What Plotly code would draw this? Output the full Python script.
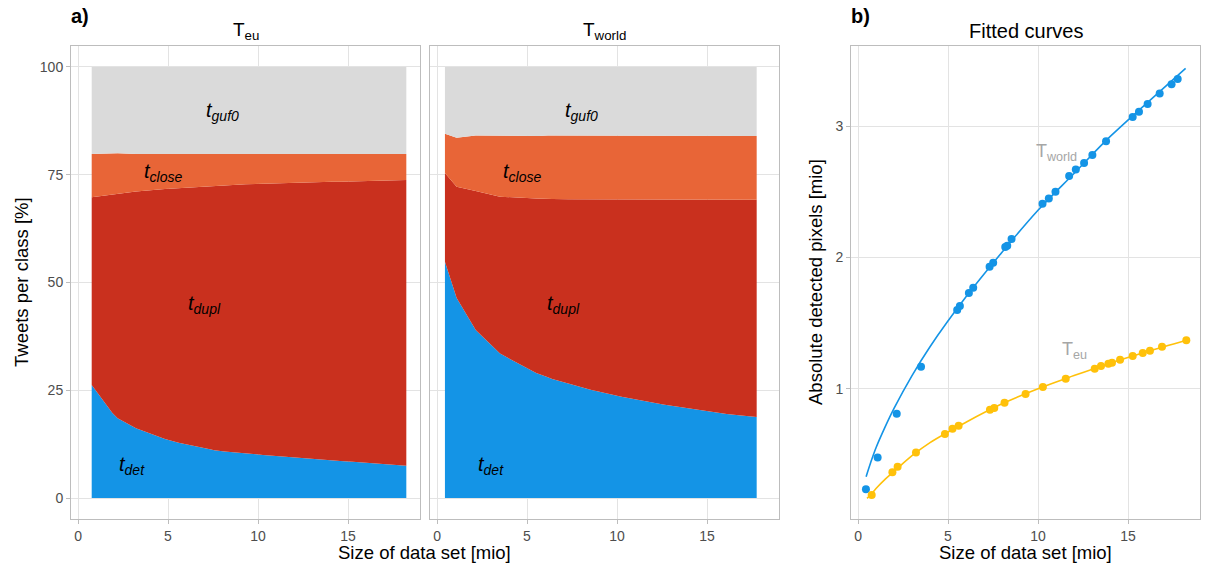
import plotly.graph_objects as go

# ---------------- data ----------------
# T_eu: size of data set [mio] and share of tweets per class [%]
eu_size = [0.76, 1.91, 2.20, 3.22, 4.83, 5.25, 5.59, 7.33, 7.57, 8.14, 9.31, 10.27,
           11.54, 13.15, 13.5, 13.91, 14.11, 14.56, 15.26, 15.82, 16.22, 16.89, 18.24]
eu_det = [26.2, 19.7, 18.5, 16.2, 13.7, 13.2, 12.8, 11.3, 11.1, 10.8, 10.3, 10.0,
          9.6, 9.0, 8.9, 8.8, 8.7, 8.6, 8.4, 8.2, 8.1, 7.9, 7.5]
eu_dupl = [43.6, 50.7, 52.1, 54.9, 58.0, 58.6, 59.2, 61.1, 61.4, 61.8, 62.5, 62.9,
           63.5, 64.3, 64.4, 64.6, 64.7, 64.8, 65.1, 65.4, 65.5, 65.8, 66.3]
eu_close = [10.0, 9.6, 9.4, 8.7, 8.1, 8.0, 7.8, 7.4, 7.3, 7.2, 7.0, 6.9,
            6.7, 6.5, 6.5, 6.4, 6.4, 6.4, 6.3, 6.2, 6.2, 6.1, 6.0]
eu_guf0 = [20.2, 20.0, 20.0, 20.2, 20.2, 20.2, 20.2, 20.2, 20.2, 20.2, 20.2, 20.2,
           20.2, 20.2, 20.2, 20.2, 20.2, 20.2, 20.2, 20.2, 20.2, 20.2, 20.2]

# T_world
world_size = [0.44, 1.09, 2.15, 3.5, 5.51, 5.66, 6.16, 6.40, 7.31, 7.51, 8.18, 8.29, 8.53,
              10.25, 10.6, 10.97, 11.73, 12.1, 12.56, 13.02, 13.78, 15.26, 15.61, 16.09,
              16.76, 17.42, 17.76]
world_det = [54.8, 46.4, 39.0, 33.5, 29.0, 28.8, 28.0, 27.6, 26.5, 26.2, 25.5, 25.4, 25.1,
             23.5, 23.2, 22.9, 22.3, 22.0, 21.7, 21.4, 20.9, 20.0, 19.8, 19.5,
             19.2, 18.9, 18.8]
world_dupl = [20.6, 25.8, 32.2, 36.4, 40.5, 40.7, 41.4, 41.8, 42.8, 43.1, 43.8, 43.9, 44.2,
              45.7, 46.0, 46.3, 46.9, 47.2, 47.5, 47.8, 48.3, 49.2, 49.4, 49.7,
              50.0, 50.3, 50.4]
world_close = [9.1, 11.4, 12.9, 14.1, 14.5, 14.5, 14.7, 14.7, 14.8, 14.8, 14.8, 14.7, 14.7,
               14.9, 14.9, 14.8, 14.8, 14.8, 14.8, 14.8, 14.8, 14.8, 14.8, 14.8,
               14.8, 14.8, 14.8]
world_guf0 = [15.5, 16.4, 15.9, 16.0, 16.0, 16.0, 15.9, 15.9, 15.9, 15.9, 15.9, 16.0, 16.0,
              15.9, 15.9, 16.0, 16.0, 16.0, 16.0, 16.0, 16.0, 16.0, 16.0, 16.0,
              16.0, 16.0, 16.0]

# absolute detected pixels [mio]
eu_pixels = [0.19, 0.364, 0.405, 0.514, 0.656, 0.695, 0.718, 0.84, 0.853, 0.893, 0.96, 1.013,
             1.076, 1.153, 1.173, 1.19, 1.198, 1.22, 1.25, 1.272, 1.29, 1.32, 1.37]
world_pixels = [0.234, 0.476, 0.81, 1.168, 1.60, 1.63, 1.73, 1.77, 1.93, 1.96, 2.08, 2.09, 2.14,
                2.41, 2.45, 2.50, 2.62, 2.67, 2.72, 2.78, 2.885, 3.07, 3.11, 3.17,
                3.25, 3.32, 3.36]

# fitted curves
eu_fit_x = [0.5, 0.76, 1, 1.5, 2, 3, 4, 6, 8, 10, 12, 14, 16, 18.24]
eu_fit_y = [0.165, 0.2, 0.24, 0.31, 0.37, 0.49, 0.59, 0.745, 0.885, 1.0, 1.10, 1.195, 1.28, 1.37]
world_fit_x = [0.45, 0.7, 1, 1.5, 2, 3, 4, 6, 8, 10, 12, 14, 16, 18.2]
world_fit_y = [0.33, 0.436, 0.55, 0.707, 0.85, 1.10, 1.32, 1.70, 2.04, 2.36, 2.64, 2.92, 3.17, 3.44]

classes = ["t_det", "t_dupl", "t_close", "t_guf0"]
class_colors = ["#1494E6", "#C9301E", "#E86537", "#DADADA"]
label_x = [3.0, 7.05, 4.7, 8.0]
label_y = [7.6, 44.8, 75.5, 89.6]
label_text = ["<i>t</i><sub><i>det</i></sub>", "<i>t</i><sub><i>dupl</i></sub>",
              "<i>t</i><sub><i>close</i></sub>", "<i>t</i><sub><i>guf0</i></sub>"]

BLUE = "#1494E6"
YELLOW = "#FFC10A"
FONT = "Liberation Sans, Arial, sans-serif"

W, H = 1207, 574
def px(x0, x1):
    return [x0 / W, x1 / W]
ydom = [(H - 519) / H, (H - 46) / H]

fig = go.Figure()

panels = [("x", "y", eu_size, [eu_det, eu_dupl, eu_close, eu_guf0]),
          ("x2", "y2", world_size, [world_det, world_dupl, world_close, world_guf0])]
for xa, ya, xs, series in panels:
    for name, vals, col in zip(classes, series, class_colors):
        fig.add_trace(go.Scatter(
            x=xs, y=vals, mode="lines", stackgroup=xa, name=name,
            line=dict(width=0, color=col), fillcolor=col,
            xaxis=xa, yaxis=ya, showlegend=False, hoverinfo="skip"))

# panel b
fig.add_trace(go.Scatter(x=world_fit_x, y=world_fit_y, mode="lines", line=dict(color=BLUE, width=1.6, shape="spline"),
                         xaxis="x3", yaxis="y3", showlegend=False))
fig.add_trace(go.Scatter(x=eu_fit_x, y=eu_fit_y, mode="lines", line=dict(color=YELLOW, width=1.6, shape="spline"),
                         xaxis="x3", yaxis="y3", showlegend=False))
fig.add_trace(go.Scatter(x=world_size, y=world_pixels, mode="markers", marker=dict(color=BLUE, size=8),
                         xaxis="x3", yaxis="y3", showlegend=False))
fig.add_trace(go.Scatter(x=eu_size, y=eu_pixels, mode="markers", marker=dict(color=YELLOW, size=8),
                         xaxis="x3", yaxis="y3", showlegend=False))

GRID = "#E3E3E3"
BORDER = "#BDBDBD"
TICKF = dict(family=FONT, size=14, color="#4D4D4D")
common_x = dict(range=[-0.39, 19.0], tickvals=[0, 5, 10, 15], showgrid=True, gridcolor=GRID, gridwidth=1,
                zeroline=False, showline=True, mirror=True, linecolor=BORDER, linewidth=1,
                ticks="outside", ticklen=4, tickcolor=BORDER, tickfont=TICKF)
common_y = dict(showgrid=True, gridcolor=GRID, gridwidth=1, zeroline=False, showline=True, mirror=True,
                linecolor=BORDER, linewidth=1, ticks="outside", ticklen=4, tickcolor=BORDER, tickfont=TICKF)

fig.update_layout(
    width=W, height=H, margin=dict(l=0, r=0, t=0, b=0),
    paper_bgcolor="white", plot_bgcolor="white",
    font=dict(family=FONT, color="black"),
    xaxis=dict(common_x, domain=px(71, 420), anchor="y"),
    xaxis2=dict(common_x, domain=px(430, 779), anchor="y2"),
    xaxis3=dict(common_x, domain=px(851, 1200), anchor="y3"),
    yaxis=dict(common_y, domain=ydom, range=[-4.87, 104.87], tickvals=[0, 25, 50, 75, 100], anchor="x"),
    yaxis2=dict(common_y, domain=ydom, range=[-4.87, 104.87], tickvals=[0, 25, 50, 75, 100],
                showticklabels=False, ticks="", anchor="x2"),
    yaxis3=dict(common_y, domain=ydom, range=[0.0076, 3.611], tickvals=[1, 2, 3], anchor="x3"),
)

def pa(xp, yp, text, size, color="black", angle=0, xanchor="center"):
    return dict(x=xp / W, y=(H - yp) / H, xref="paper", yref="paper", text=text, textangle=angle,
                xanchor=xanchor, yanchor="middle", showarrow=False,
                font=dict(family=FONT, size=size, color=color))

ann = []
for xr, yr in [("x", "y"), ("x2", "y2")]:
    for lx, ly, lt in zip(label_x, label_y, label_text):
        ann.append(dict(x=lx, y=ly, xref=xr, yref=yr, text=lt, showarrow=False,
                        xanchor="center", yanchor="middle",
                        font=dict(family=FONT, size=20, color="black")))

ann += [
    dict(x=11.05, y=2.80, xref="x3", yref="y3", text="T<sub>world</sub>", showarrow=False,
         xanchor="center", yanchor="middle", font=dict(family=FONT, size=18, color="#A6A6A6")),
    dict(x=12.05, y=1.29, xref="x3", yref="y3", text="T<sub>eu</sub>", showarrow=False,
         xanchor="center", yanchor="middle", font=dict(family=FONT, size=18, color="#A6A6A6")),
    # panel titles
    pa((71 + 420) / 2, 31, "T<sub>eu</sub>", 19),
    pa((430 + 779) / 2, 31, "T<sub>world</sub>", 19),
    pa((851 + 1200) / 2, 31, "Fitted curves", 20),
    # tags
    pa(69, 16, "<b>a)</b>", 20, xanchor="left"),
    pa(849, 16, "<b>b)</b>", 20, xanchor="left"),
    # axis titles
    pa((71 + 779) / 2, 552, "Size of data set [mio]", 18.5),
    pa((851 + 1200) / 2, 552, "Size of data set [mio]", 18.5),
    pa(21, 282, "Tweets per class [%]", 18.5, angle=-90),
    pa(815, 282, "Absolute detected pixels [mio]", 18.5, angle=-90),
]
fig.update_layout(annotations=ann)

fig.write_html("out.html")
